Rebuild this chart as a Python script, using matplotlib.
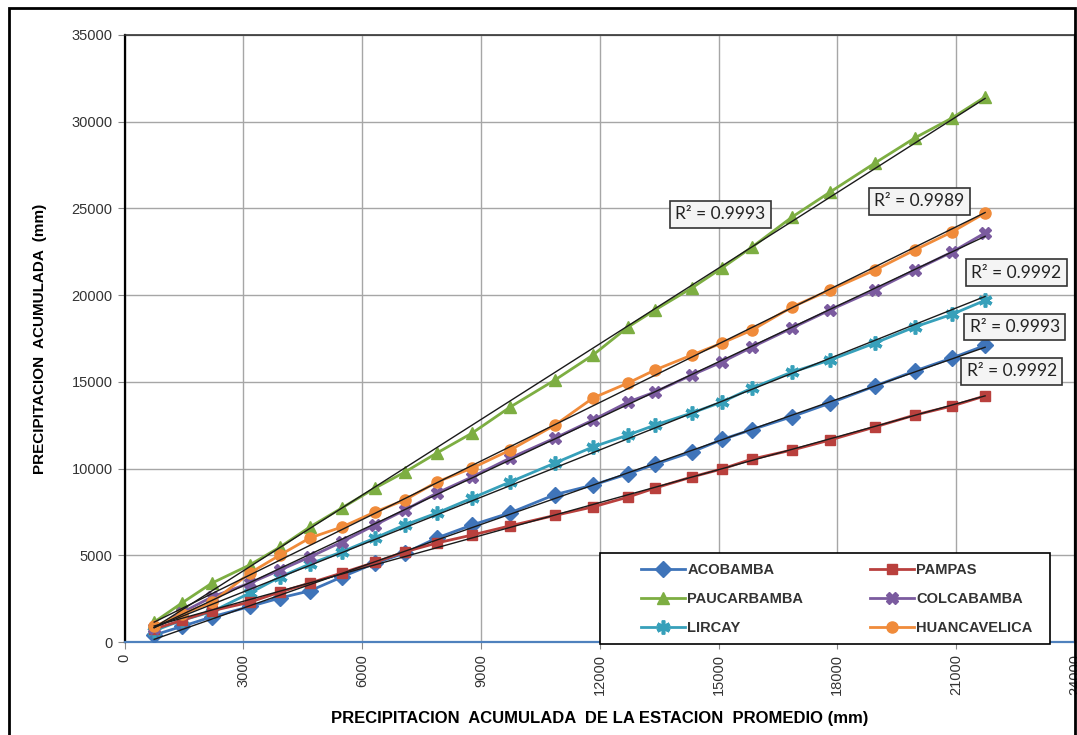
import matplotlib
matplotlib.use("Agg")
import matplotlib.pyplot as plt
import numpy as np
from matplotlib.patches import Rectangle

plt.rcParams["font.family"] = ["Liberation Sans", "DejaVu Sans"]

# precipitacion acumulada de la estacion promedio (mm)
x_prom = [750, 1450, 2210, 3170, 3930, 4680, 5490, 6330, 7080, 7890, 8780, 9740, 10870,
          11830, 12720, 13400, 14330, 15090, 15850, 16860, 17820, 18950, 19960, 20900, 21730]

acobamba = [400, 900, 1450, 2050, 2540, 2950, 3750, 4550, 5130, 6000, 6750, 7450, 8500,
            9050, 9700, 10250, 10960, 11680, 12250, 13000, 13780, 14760, 15630, 16380, 17100]
pampas = [750, 1250, 1800, 2300, 2880, 3400, 3980, 4600, 5200, 5710, 6170, 6700, 7300,
          7790, 8360, 8880, 9520, 9980, 10550, 11070, 11650, 12400, 13090, 13610, 14190]
paucarbamba = [1150, 2250, 3400, 4450, 5480, 6630, 7730, 8880, 9800, 10900, 12050, 13550, 15110,
               16550, 18170, 19150, 20420, 21570, 22780, 24510, 25950, 27620, 29070, 30220, 31430]
colcabamba = [800, 1700, 2600, 3400, 4150, 4900, 5770, 6750, 7610, 8590, 9520, 10610, 11760,
              12800, 13840, 14420, 15400, 16150, 17010, 18110, 19150, 20300, 21450, 22490, 23590]
lircay = [650, 1250, 1750, 2830, 3750, 4500, 5200, 6000, 6750, 7440, 8300, 9230, 10320,
          11250, 11940, 12510, 13210, 13840, 14650, 15570, 16260, 17240, 18170, 18900, 19700]
huancavelica = [900, 1600, 2300, 3980, 5020, 6000, 6630, 7500, 8190, 9230, 10030, 11070, 12510,
                14070, 14940, 15690, 16550, 17240, 17990, 19320, 20300, 21450, 22610, 23650, 24740]

r2_labels = ["R² = 0.9993", "R² = 0.9989", "R² = 0.9992", "R² = 0.9993", "R² = 0.9992"]

# name, values, colour, marker, marker size, edge width
series = [
    ("ACOBAMBA", acobamba, "#3F74B9", "D", 8, 1.0),
    ("PAUCARBAMBA", paucarbamba, "#7DAE42", "^", 9, 1.0),
    ("LIRCAY", lircay, "#37A0BA", (6, 2, 0), 10, 2.6),
    ("PAMPAS", pampas, "#B9403D", "s", 7, 1.0),
    ("COLCABAMBA", colcabamba, "#7B5B9F", "X", 9, 1.0),
    ("HUANCAVELICA", huancavelica, "#F08B3A", "o", 8, 1.0),
]

# where each R² box sits (data coords): paucarbamba, huancavelica, colcabamba, lircay, acobamba
r2_pos = [(15050, 24650), (20070, 25400), (22520, 21300), (22480, 18170), (22400, 15600)]

fig = plt.figure(figsize=(10.77, 7.35), dpi=100)
ax = fig.add_axes([124.5 / 1077, 1 - 642 / 735, (1075 - 124.5) / 1077, (642 - 35) / 735])

x = np.array(x_prom, dtype=float)
for name, vals, color, marker, ms, mew in series:
    y = np.array(vals, dtype=float)
    ax.plot(x, y, color=color, lw=2.0, marker=marker, ms=ms, mfc=color, mec=color,
            mew=mew, label=name, zorder=3)
    slope, icpt = np.polyfit(x, y, 1)
    ax.plot([x[0], x[-1]], [slope * x[0] + icpt, slope * x[-1] + icpt],
            color="#1a1a1a", lw=1.0, zorder=4)

for text, (tx, ty) in zip(r2_labels, r2_pos):
    ax.text(tx, ty, text, ha="center", va="center", fontsize=12.5, family=["Lato", "DejaVu Sans"],
            color="#222222", zorder=6,
            bbox=dict(boxstyle="square,pad=0.3", fc="#F4F4F4", ec="#333333", lw=1.2))

ax.set_xlim(0, 24000)
ax.set_ylim(0, 35000)
ax.set_xticks(np.arange(0, 24001, 3000))
ax.set_yticks(np.arange(0, 35001, 5000))
ax.tick_params(axis="x", labelrotation=90, labelsize=10.5, colors="#333333", length=5, color="#888888")
ax.tick_params(axis="y", labelsize=10.5, colors="#333333", length=5, color="#888888")
ax.grid(True, color="#A6A6A6", lw=1.0)
ax.set_axisbelow(True)

ax.spines["left"].set_color("black")
ax.spines["left"].set_linewidth(1.6)
ax.spines["top"].set_color("#333333")
ax.spines["top"].set_linewidth(1.2)
ax.spines["right"].set_color("black")
ax.spines["right"].set_linewidth(1.6)
ax.spines["bottom"].set_color("#4F81BD")
ax.spines["bottom"].set_linewidth(1.6)

ax.set_ylabel("PRECIPITACION  ACUMULADA  (mm)", fontsize=11, fontweight="bold", labelpad=18)
ax.set_xlabel("PRECIPITACION  ACUMULADA  DE LA ESTACION  PROMEDIO (mm)", fontsize=12,
              fontweight="bold", labelpad=12)

# legend box drawn separately so the entries can sit indented inside it
ax.add_patch(Rectangle((0.5003, -0.004), 0.4734, 0.151, transform=ax.transAxes,
                       fc="white", ec="black", lw=1.2, zorder=7, clip_on=False))
leg = ax.legend(ncol=2, loc="center left", bbox_to_anchor=(0.536, 0.0708),
                frameon=False, borderpad=0, handlelength=3.0, labelspacing=1.05,
                handletextpad=0.15, columnspacing=4.6,
                prop={"weight": "bold", "size": 10.5})
leg.set_zorder(8)
for t in leg.get_texts():
    t.set_color("#333333")

fig.patches.append(Rectangle((9 / 1077, -0.01), (1075 - 9) / 1077, 1.01 - 8 / 735,
                             transform=fig.transFigure, fill=False, ec="black", lw=2.0))

fig.savefig("out.png", dpi=100)
